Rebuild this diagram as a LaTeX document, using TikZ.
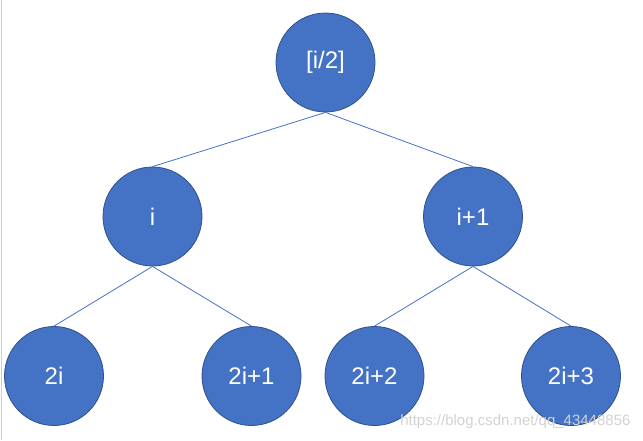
\documentclass[tikz,border=0pt]{standalone}
\usepackage{fontspec}
\setmainfont{Liberation Sans}
\usepackage{xcolor}
\usetikzlibrary{positioning}
\definecolor{nodeblue}{HTML}{4472C4}
\definecolor{nodeedge}{HTML}{2F528F}
\tikzset{
  heapnode/.style={circle,fill=nodeblue,draw=nodeedge,line width=0.8pt,
    minimum size=99pt,inner sep=0pt,text=white,font=\fontsize{24}{28}\selectfont},
  heapedge/.style={draw=nodeblue,line width=0.8pt},
}
\begin{document}
\begin{tikzpicture}[x=1pt,y=-1pt,line join=round]
  \useasboundingbox (0,0) rectangle (643,440);
  \draw[gray!40,line width=1.2pt] (1.5,0) -- (1.5,440);
  % tree levels
  \node[heapnode] (top) at (325.5,62.5) {[i/2]};
  \node[heapnode] (left) at (152.5,216.5) {i};
  \node[heapnode] (right) at (473,216.5) {i+1};
  \node[heapnode] (ll) at (54,376) {2i};
  \node[heapnode] (lr) at (251.5,376) {2i+1};
  \node[heapnode] (rl) at (374.5,376) {2i+2};
  \node[heapnode] (rr) at (571,376) {2i+3};
  \draw[heapedge] (top.south) -- (left.north);
  \draw[heapedge] (top.south) -- (right.north);
  \draw[heapedge] (left.south) -- (ll.north);
  \draw[heapedge] (left.south) -- (lr.north);
  \draw[heapedge] (right.south) -- (rl.north);
  \draw[heapedge] (right.south) -- (rr.north);
  \node[gray!35,font=\fontsize{15}{17}\selectfont,anchor=east] (mark) at (634,422) {https://blog.csdn.net/qq\_43448856};
\end{tikzpicture}
\end{document}
